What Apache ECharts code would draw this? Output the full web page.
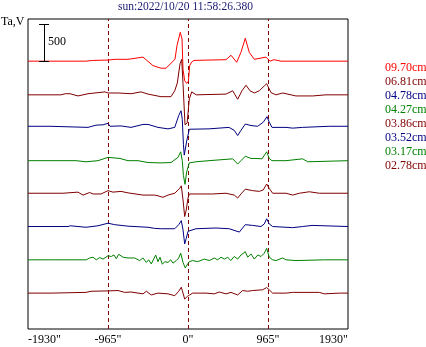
<!DOCTYPE html>
<html>
<head>
<meta charset="utf-8">
<script src="https://cdn.jsdelivr.net/npm/echarts@6/dist/echarts.min.js"></script>
<style>
  html, body { margin: 0; padding: 0; background: #fff; }
  #chart { width: 426px; height: 347px; }
</style>
</head>
<body>
<div id="chart"></div>
<script>
// traces: [arcsec, Ta] relative to each trace's own baseline
const names = ['09.70cm', '06.81cm', '04.78cm', '04.27cm', '03.86cm', '03.52cm', '03.17cm', '02.78cm']
const colors = ['#ff0000', '#800000', '#000080', '#008000', '#800000', '#000080', '#008000', '#800000']
const offsets = [3620, 3165, 2740, 2275, 1835, 1385, 935, 485]
const xTicks = [-1930, -965, 0, 965, 1930]
const dashedAt = [-965, 0, 965]
const scaleBar = 500

const t0970 = [[-1930, 0], [-1230, 0], [-1150, 10], [-965, 15], [-880, 25], [-724, 25], [-543, 55], [-422, -60],
  [-326, -95], [-265, -95], [-157, 25], [-133, 210], [-93, 390], [-72, 300], [-60, -110], [-40, -265], [-16, -300],
  [5, -270], [20, -60], [45, -10], [72, 10], [253, 15], [458, 20], [519, 80], [587, -15], [639, 120], [691, 310],
  [739, 120], [800, 25], [941, 55], [989, 0], [1037, 20], [1122, 0], [1930, 0]]
const t0681 = [[-1930, 0], [-1532, 0], [-1480, 15], [-1423, 15], [-1327, -15], [-1206, 15], [-1001, 40], [-965, 25],
  [-844, 25], [-687, 15], [-567, 40], [-482, 10], [-326, -25], [-205, -25], [-160, 55], [-129, 160], [-96, 420],
  [-76, 480], [-60, 150], [-36, -405], [-10, -380], [16, -55], [45, 40], [100, 0], [458, 10], [539, 55], [599, -60],
  [651, 55], [700, 130], [748, 55], [800, 25], [860, 55], [920, 120], [949, 150], [973, 95], [1001, 30], [1061, 0],
  [1142, 25], [1302, -15], [1504, -15], [1664, 0], [1930, 0]]
const t0478 = [[-1930, 0], [-1664, 0], [-1650, -15], [-1206, -15], [-1190, 0], [-1110, 15], [-1025, 20], [-965, 40],
  [-941, 0], [-808, 5], [-687, -15], [-543, 25], [-482, 25], [-362, -15], [-241, -35], [-160, -15], [-112, 145],
  [-84, 210], [-69, 95], [-55, -250], [-45, -390], [-16, -200], [16, -40], [40, -35], [253, -35], [277, -25],
  [494, -15], [558, -55], [599, -125], [639, -55], [691, 30], [760, 10], [840, 0], [908, 55], [953, 130], [980, 55],
  [1013, -15], [1182, -15], [1263, -25], [1383, -15], [1704, 0], [1930, 0]]
const t0427 = [[-1930, 0], [-1351, 0], [-1230, -15], [-1086, 0], [-965, 45], [-820, 30], [-724, 0], [-603, 0],
  [-482, -25], [-326, -30], [-205, -25], [-121, 45], [-88, 120], [-69, 0], [-55, -200], [-36, -320], [-16, -150],
  [16, -30], [96, -15], [253, 0], [539, 25], [599, -45], [639, 0], [691, 60], [760, 30], [820, 30], [892, 25],
  [949, 120], [980, 30], [1013, 0], [1182, 0], [1383, 25], [1444, -15], [1930, 0]]
const t0386 = [[-1930, 0], [-1508, 0], [-1487, 15], [-1327, 15], [-1266, -25], [-1186, 10], [-1146, -10], [-1049, -10],
  [-965, 35], [-905, 15], [-808, 25], [-724, 5], [-543, -25], [-402, -25], [-362, -35], [-302, -55], [-241, -25],
  [-160, 0], [-100, 65], [-81, 100], [-60, -90], [-40, -315], [-21, -225], [0, -65], [16, -10], [298, -10], [458, 0],
  [558, -25], [599, -65], [639, -10], [691, 55], [780, 35], [860, 25], [908, 45], [949, 125], [980, 65], [1021, 0],
  [1182, 0], [1263, -25], [1343, 0], [1463, 20], [1584, 0], [1930, 0]]
const t0352 = [[-1930, 0], [-1447, 0], [-1420, 10], [-1400, 0], [-1230, -10], [-1086, 10], [-965, 45], [-884, 25],
  [-724, 5], [-482, -10], [-402, -25], [-322, -30], [-160, -30], [-112, 25], [-81, 80], [-60, -45], [-40, -235],
  [-21, -160], [0, -65], [16, -50], [96, -30], [338, -20], [498, -30], [619, -75], [691, 25], [780, 15], [880, 0],
  [920, 35], [949, 105], [980, 35], [1021, 0], [1263, -15], [1383, 0], [1496, 15], [1520, 0], [1930, 0]]
const t0317 = [[-1930, 0], [-1688, 0], [-1227, 0], [-1186, 25], [-1146, 35], [-1106, 0], [-1065, 30], [-1025, 10],
  [-965, 55], [-925, 45], [-893, 65], [-865, 15], [-836, 75], [-784, 35], [-724, 25], [-643, 25], [-583, -10],
  [-543, 25], [-503, -35], [-474, 0], [-443, -55], [-390, 65], [-362, -25], [-338, 35], [-310, -60], [-281, -25],
  [-241, -35], [-209, 0], [-181, -45], [-141, -10], [-112, 25], [-88, 90], [-60, -35], [-33, -110], [-12, -70],
  [16, -25], [57, -10], [117, -25], [197, 10], [257, -10], [317, 25], [358, 0], [398, 35], [438, 10], [479, 35],
  [515, -10], [558, 45], [599, 10], [639, 65], [691, 110], [720, 35], [760, 80], [800, 10], [841, 65], [880, 45],
  [920, 90], [949, 155], [980, 35], [1021, 0], [1061, -10], [1142, 25], [1182, 0], [1302, -10], [1644, 0], [1930, 0]]
const t0278 = [[-1930, 0], [-1652, 0], [-1640, 10], [-1230, 10], [-1170, 25], [-965, 30], [-844, 35], [-764, 10],
  [-687, 15], [-543, -10], [-503, 25], [-443, -25], [-362, 0], [-241, -10], [-160, -35], [-112, 25], [-81, 80],
  [-60, 0], [-40, -80], [-8, -45], [20, -25], [57, 0], [217, 0], [317, -10], [377, 15], [458, -10], [519, 10],
  [599, -25], [659, 35], [720, 25], [780, 35], [900, 45], [949, 75], [980, 45], [1021, 0], [1182, 0], [1263, 10],
  [1584, 10], [1644, -10], [1825, 0], [1930, 0]]
const traces = [t0970, t0681, t0478, t0427, t0386, t0352, t0317, t0278]

const font = 'Liberation Serif, DejaVu Serif, serif'

const series = traces.map((t, i) => ({
  name: names[i],
  type: 'line',
  showSymbol: false,
  color: colors[i],
  lineStyle: { width: 1, color: colors[i] },
  data: t.map(p => [p[0], p[1] + offsets[i]]),
  z: 3
}))

series[0].markLine = {
  silent: true,
  symbol: ['none', 'none'],
  label: { show: false },
  lineStyle: { color: '#800000', type: [4, 3], width: 1 },
  data: dashedAt.map(v => ({ xAxis: v })),
  z: 2
}

// scale bar
const barX = -1736
const barBase = offsets[0]
series.push({
  type: 'lines',
  coordinateSystem: 'cartesian2d',
  silent: true,
  lineStyle: { color: '#000', width: 1, opacity: 1 },
  data: [
    { coords: [[barX, barBase], [barX, barBase + scaleBar]] },
    { coords: [[-1797, barBase + scaleBar], [-1676, barBase + scaleBar]] },
    { coords: [[-1797, barBase], [-1676, barBase]] }
  ],
  z: 4
})

const option = {
  animation: false,
  backgroundColor: '#fff',
  title: {
    text: 'sun:2022/10/20 11:58:26.380',
    left: 118,
    top: 1,
    padding: 0,
    textStyle: { color: '#191970', fontSize: 11.5, fontWeight: 'normal', fontFamily: font }
  },
  legend: {
    data: names.map((n, i) => ({ name: n, textStyle: { color: colors[i] } })),
    orient: 'vertical',
    left: 375,
    top: 56,
    itemWidth: 0,
    itemHeight: 14,
    itemGap: 0,
    icon: 'rect',
    selectedMode: false,
    textStyle: { fontSize: 12, fontFamily: font }
  },
  graphic: [
    { type: 'text', left: 1, top: 16, style: { text: 'Ta,V', fill: '#000', font: '12px ' + font } },
    { type: 'text', left: 48, top: 36, style: { text: String(scaleBar), fill: '#000', font: '12px ' + font } }
  ],
  grid: {
    left: 28,
    right: 78,
    top: 19,
    bottom: 18,
    show: true,
    borderColor: '#000',
    borderWidth: 1
  },
  xAxis: {
    type: 'value',
    min: xTicks[0],
    max: xTicks[xTicks.length - 1],
    interval: 965,
    axisLine: { show: false },
    axisTick: { show: false },
    splitLine: { show: false },
    axisLabel: {
      color: '#000',
      fontSize: 12,
      fontFamily: font,
      margin: 5,
      alignMinLabel: 'left',
      alignMaxLabel: 'right',
      formatter: v => v + '"'
    }
  },
  yAxis: {
    type: 'value',
    min: 0,
    max: 4190,
    axisLine: { show: false },
    axisTick: { show: false },
    axisLabel: { show: false },
    splitLine: { show: false }
  },
  series: series
}

const myChart = echarts.init(document.getElementById('chart'))
myChart.setOption(option, true)
</script>
</body>
</html>
